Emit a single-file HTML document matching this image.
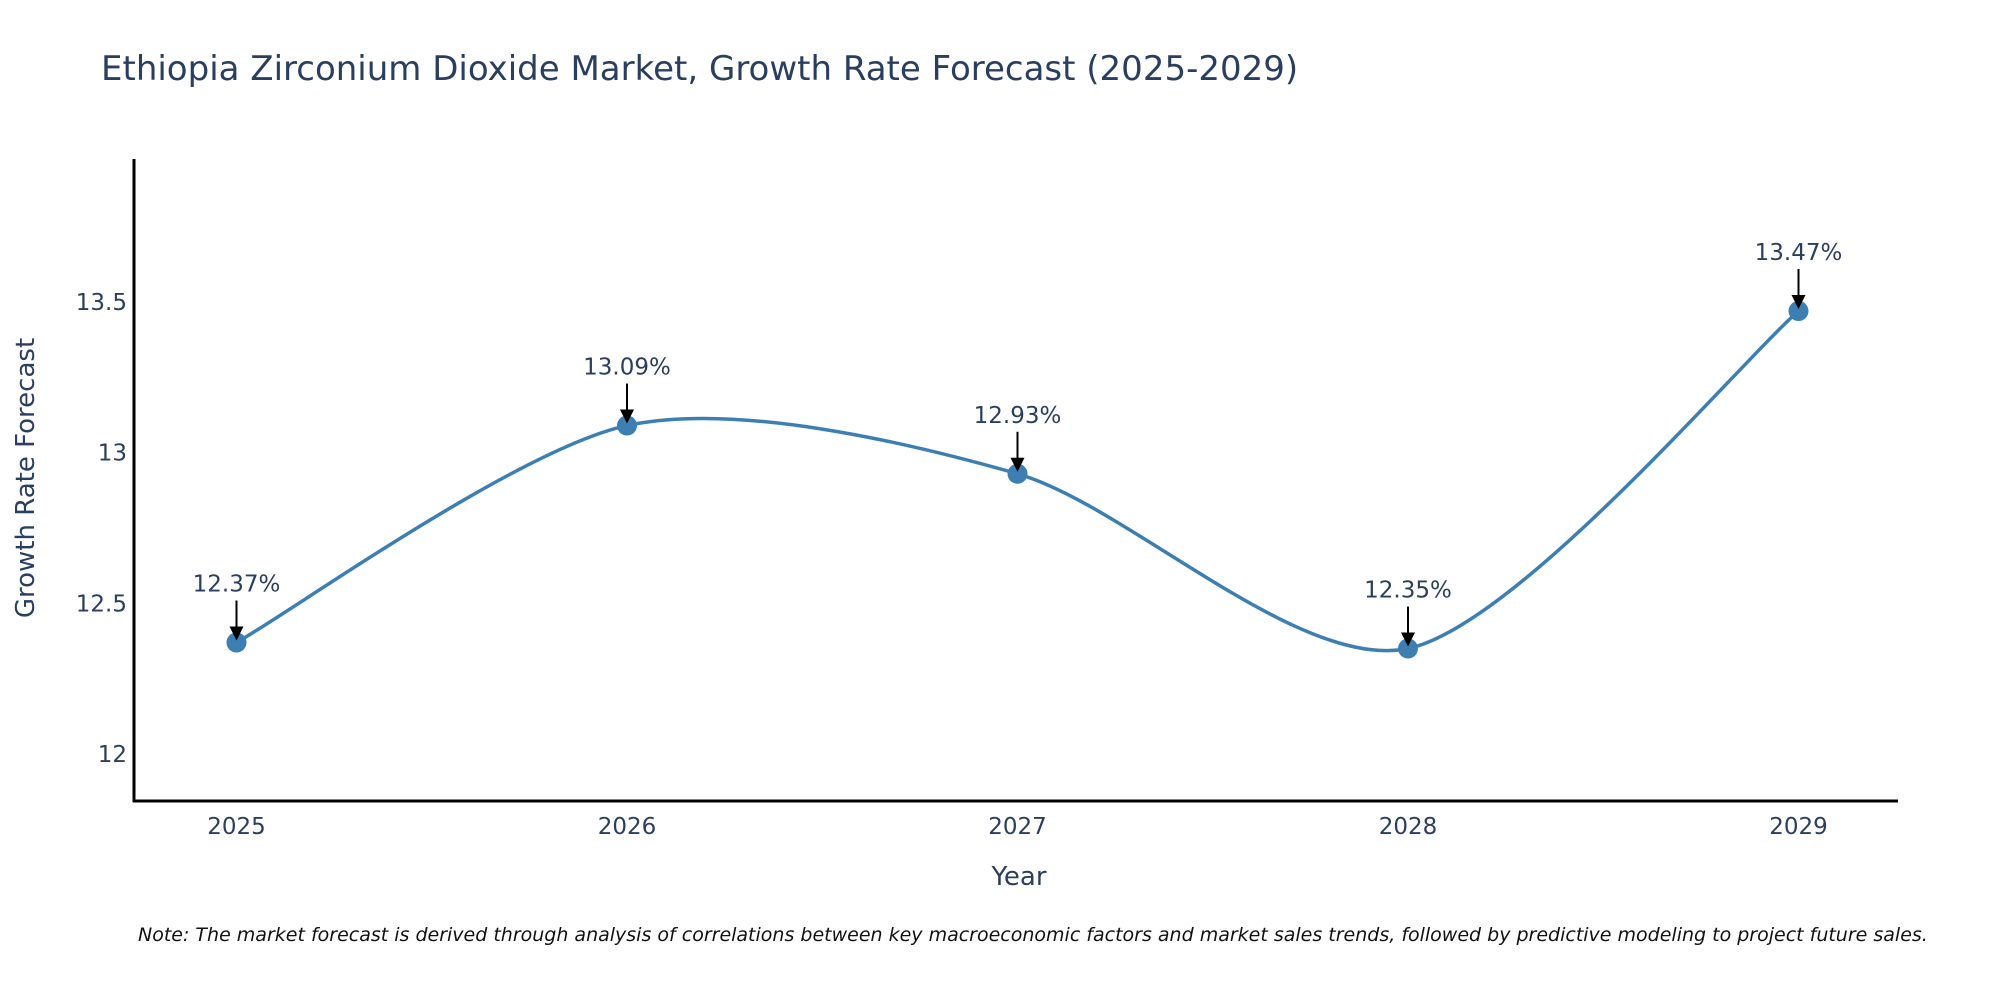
<!DOCTYPE html>
<html><head><meta charset="utf-8"><style>
body{margin:0;background:#fff;}
svg{display:block;font-family:"DejaVu Sans","Liberation Sans",sans-serif;}
</style></head><body>
<svg id="chart" width="2000" height="1000" viewBox="0 0 2000 1000">
<text x="101" y="80" font-size="34" fill="#2a3f5f">Ethiopia Zirconium Dioxide Market, Growth Rate Forecast (2025-2029)</text>
<line x1="134" y1="159" x2="134" y2="802" stroke="#000" stroke-width="3"/>
<line x1="133" y1="801" x2="1898" y2="801" stroke="#000" stroke-width="3"/>
<g id="yticks"></g><g id="xticks"></g>
<path id="line" fill="none" stroke="#3D7EB3" stroke-width="3.5"/>
<g id="points"></g><g id="annots"></g>
<text x="1019" y="885" font-size="26" fill="#2a3f5f" text-anchor="middle">Year</text>
<text x="0" y="0" font-size="26" fill="#2a3f5f" text-anchor="middle" transform="translate(34,478) rotate(-90)">Growth Rate Forecast</text>
<text x="138" y="941" font-size="19" font-style="italic" fill="#111">Note: The market forecast is derived through analysis of correlations between key macroeconomic factors and market sales trends, followed by predictive modeling to project future sales.</text>
</svg>
<script>
const years = [2025, 2026, 2027, 2028, 2029];
const values = [12.37, 13.09, 12.93, 12.35, 13.47];
const labels = ["12.37%", "13.09%", "12.93%", "12.35%", "13.47%"];
const yTicks = [12, 12.5, 13, 13.5];
const yTickLabels = ["12", "12.5", "13", "13.5"];

const NS = "http://www.w3.org/2000/svg";
function xs(v){ return 236.5 + (v - 2025) * (1798.5 - 236.5) / 4; }
function ys(v){ return 754 - (v - 12) * (754 - 302) / 1.5; }
function mk(tag, attrs, parent, txt){
  const e = document.createElementNS(NS, tag);
  for (const k in attrs) e.setAttribute(k, attrs[k]);
  if (txt !== undefined) e.textContent = txt;
  document.getElementById(parent).appendChild(e);
  return e;
}
yTicks.forEach((t, i) => {
  const e = mk("text", {x: 127, y: ys(t) + 8, "font-size": 23, fill: "#2a3f5f", "text-anchor": "end"}, "yticks", yTickLabels[i]);
  
  
});
years.forEach(y => {
  const e = mk("text", {x: xs(y), y: 834, "font-size": 23, fill: "#2a3f5f", "text-anchor": "middle"}, "xticks", String(y));
  
  
});
const P = years.map((y, i) => [xs(y), ys(values[i])]);
let d = "M" + P[0][0] + "," + P[0][1];
const t = 0.42;
for (let i = 0; i < P.length - 1; i++) {
  const p0 = P[Math.max(i - 1, 0)], p1 = P[i], p2 = P[i + 1], p3 = P[Math.min(i + 2, P.length - 1)];
  const c1 = [p1[0] + (p2[0] - p0[0]) * t / 3, p1[1] + (p2[1] - p0[1]) * t / 3];
  const c2 = [p2[0] - (p3[0] - p1[0]) * t / 3, p2[1] - (p3[1] - p1[1]) * t / 3];
  d += " C" + c1 + " " + c2 + " " + p2;
}
document.getElementById("line").setAttribute("d", d);
P.forEach((p, i) => {
  const c = mk("circle", {cx: p[0], cy: p[1], r: 10, fill: "#3D7EB3"}, "points");
  
  
  const l = mk("line", {x1: p[0], y1: p[1] - 42, x2: p[0], y2: p[1] - 14, stroke: "#000", "stroke-width": 2}, "annots");
  
  
  const h = mk("polygon", {points: (p[0]-7)+","+(p[1]-16)+" "+(p[0]+7)+","+(p[1]-16)+" "+p[0]+","+(p[1]-2), fill: "#000"}, "annots");
  
  
  const tx = mk("text", {x: p[0], y: p[1] - 51, "font-size": 23, fill: "#2a3f5f", "text-anchor": "middle"}, "annots", labels[i]);
  
  
});
</script>
</body></html>
